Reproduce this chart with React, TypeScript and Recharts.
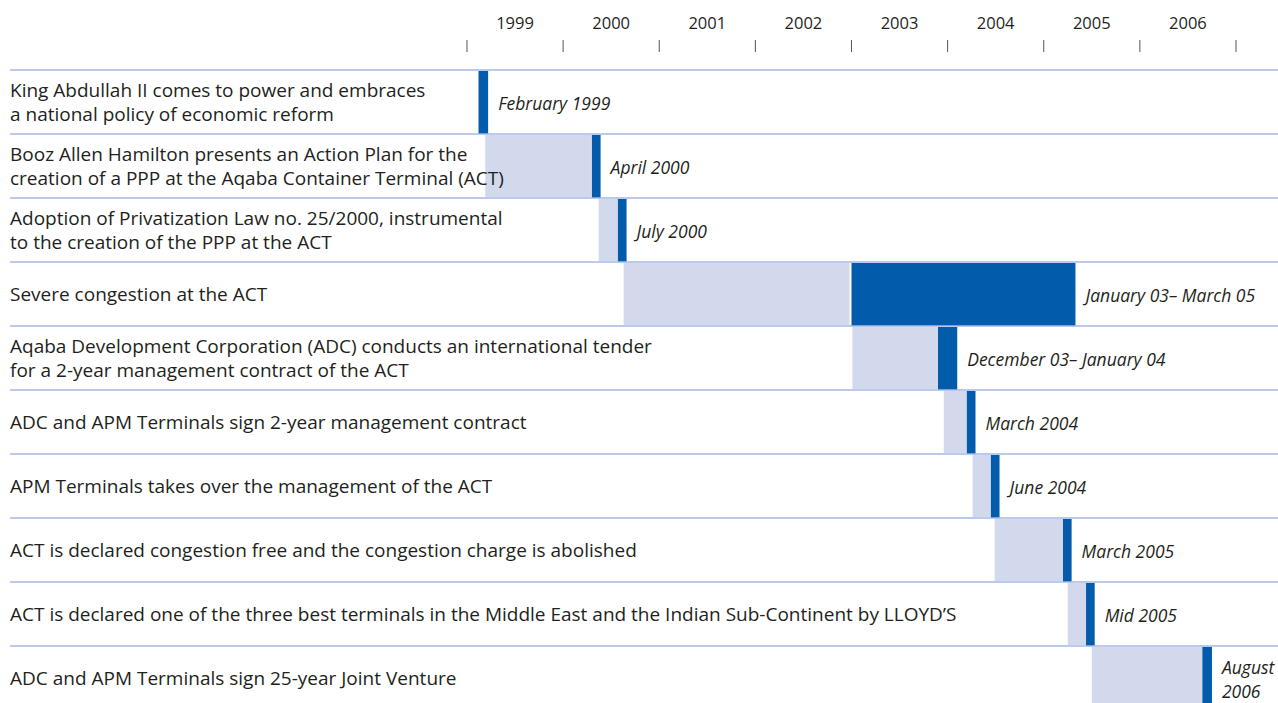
import { BarChart, Bar, XAxis, YAxis, ReferenceLine, LabelList } from 'recharts';

const events = [
  'King Abdullah II comes to power and embraces\na national policy of economic reform',
  'Booz Allen Hamilton presents an Action Plan for the\ncreation of a PPP at the Aqaba Container Terminal (ACT)',
  'Adoption of Privatization Law no. 25/2000, instrumental\nto the creation of the PPP at the ACT',
  'Severe congestion at the ACT',
  'Aqaba Development Corporation (ADC) conducts an international tender\nfor a 2-year management contract of the ACT',
  'ADC and APM Terminals sign 2-year management contract',
  'APM Terminals takes over the management of the ACT',
  'ACT is declared congestion free and the congestion charge is abolished',
  'ACT is  declared one of the three best terminals in the Middle East and the Indian Sub-Continent by LLOYD\u2019S',
  'ADC and APM Terminals sign 25-year Joint Venture',
];

const dates = [
  'February 1999',
  'April 2000',
  'July 2000',
  'January 03\u2013 March 05',
  'December 03\u2013 January 04',
  'March 2004',
  'June 2004',
  'March 2005',
  'Mid 2005',
  'August\n2006',
];

// lead-up period (light) and event (dark), in fractional years
const leadStart = [null, 1999.19, 2000.37, 2000.63, 2003.01, 2003.96, 2004.26, 2004.49, 2005.25, 2005.5];
const leadEnd = [null, 2000.3, 2000.57, 2002.98, 2003.9, 2004.2, 2004.45, 2005.2, 2005.44, 2006.65];
const eventStart = [1999.12, 2000.3, 2000.57, 2003.0, 2003.9, 2004.2, 2004.45, 2005.2, 2005.44, 2006.65];
const eventEnd = [1999.22, 2000.39, 2000.66, 2005.33, 2004.1, 2004.29, 2004.54, 2005.29, 2005.53, 2006.75];

const years = [1999, 2000, 2001, 2002, 2003, 2004, 2005, 2006];

const rows = events.map((event, i) => ({
  event,
  date: dates[i],
  lead: leadStart[i] == null ? null : [leadStart[i], leadEnd[i]],
  mark: [eventStart[i], eventEnd[i]],
}));

const yearTicks = [...years, 2007, ...years.map((y) => y + 0.5)].sort((a, b) => a - b);

const FONT = '"Open Sans", sans-serif';
const TEXT = '#231f20';

function YearTick(props: any) {
  const { x, y, payload } = props;
  const v = payload.value;
  if (Number.isInteger(v)) {
    return <line x1={x} x2={x} y1={y - 30} y2={y - 18} stroke="#555" strokeWidth={1} />;
  }
  return (
    <text x={x} y={y - 41} textAnchor="middle" fontSize={16.5} fontFamily={FONT} fill={TEXT}>
      {Math.floor(v)}
    </text>
  );
}

function EventTick(props: any) {
  const { y, payload } = props;
  const x = 10;
  const lines = String(payload.value).split('\n');
  const lh = 24;
  return (
    <text x={x} y={y} fontSize={19} fontFamily={FONT} fill={TEXT} dominantBaseline="central" textAnchor="start">
      {lines.map((l, i) => (
        <tspan key={i} x={x} dy={i === 0 ? -((lines.length - 1) * lh) / 2 : lh}>
          {l}
        </tspan>
      ))}
    </text>
  );
}

function DateLabel(props: any) {
  const { x, y, width, height, value } = props;
  const lines = String(value).split('\n');
  const lh = 24;
  const tx = x + width + 10;
  return (
    <text x={tx} y={y + height / 2} fontSize={17.5} fontStyle="italic" fontFamily={FONT} fill={TEXT} dominantBaseline="central">
      {lines.map((l, i) => (
        <tspan key={i} x={tx} dy={i === 0 ? -((lines.length - 1) * lh) / 2 : lh}>
          {l}
        </tspan>
      ))}
    </text>
  );
}

export default function App() {
  return (
    <div style={{ position: 'absolute', left: 0, top: 0, width: 1278, height: 703, overflow: 'hidden', background: '#fff' }}>
      <BarChart
        width={1278}
        height={712}
        data={rows}
        layout="vertical"
        barCategoryGap={0}
        barGap={0}
        margin={{ top: 0, right: 0, bottom: 2, left: 9 }}
      >
        <XAxis
          type="number"
          orientation="top"
          domain={[1994.246, 2007.437]}
          allowDataOverflow
          ticks={yearTicks}
          interval={0}
          height={70}
          axisLine={false}
          tickLine={false}
          tickSize={0}
          tickMargin={0}
          tick={<YearTick />}
        />
        <YAxis
          yAxisId="events"
          type="category"
          dataKey="event"
          width={1}
          axisLine={false}
          tickLine={false}
          tickSize={0}
          tickMargin={0}
          interval={0}
          tick={<EventTick />}
        />
        <YAxis yAxisId="marks" type="category" dataKey="event" hide />
        <Bar yAxisId="events" dataKey="lead" fill="#d3d9ec" barSize={62} isAnimationActive={false} />
        <Bar yAxisId="marks" dataKey="mark" fill="#035bab" barSize={63} isAnimationActive={false}>
          <LabelList dataKey="date" content={<DateLabel />} />
        </Bar>
        {events.map((e) => (
          <ReferenceLine key={e} yAxisId="events" y={e} position="start" stroke="#a3b7e6" strokeWidth={1.5} />
        ))}
      </BarChart>
    </div>
  );
}
